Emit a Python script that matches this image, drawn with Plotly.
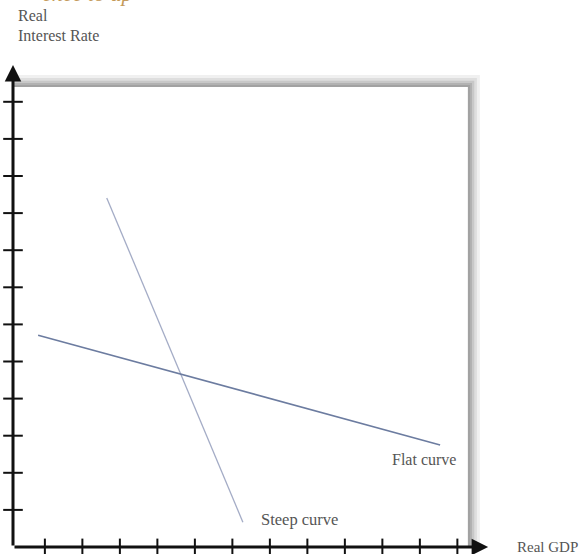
import plotly.graph_objects as go

# ---- data (chart units: 1 unit = one tick step) ----
steep_x = [2.5, 6.13]
steep_y = [9.41, 0.67]
flat_x = [0.67, 11.39]
flat_y = [5.71, 2.75]

x_ticks = [0.85, 1.85, 2.85, 3.85, 4.85, 5.85, 6.85, 7.85, 8.85, 9.85, 10.85, 11.85]
y_ticks = [1, 2, 3, 4, 5, 6, 7, 8, 9, 10, 11, 12]

x_label = "Real GDP"
y_label_1 = "Real"
y_label_2 = "Interest Rate"
flat_label = "Flat curve"
steep_label = "Steep curve"
header_text = "ence to up"

XR = [-0.3467, 15.2267]
YR = [-0.1887, 14.744]
BOX_X = 12.13
BOX_Y = 12.40
X_TIP = 12.67
Y_TIP = 12.99

fig = go.Figure()

# box with soft gray shadow on top and right
shadow = [
    (0.32, 0.32, "#f0f0f0"),
    (0.24, 0.24, "#dedede"),
    (0.17, 0.17, "#c8c8c8"),
    (0.11, 0.11, "#b2b2b2"),
    (0.06, 0.05, "#a2a2a2"),
]
for dx, dy, col in shadow:
    fig.add_shape(type="rect", x0=0, y0=0, x1=BOX_X + dx, y1=BOX_Y + dy,
                  fillcolor=col, line_width=0, layer="below")
fig.add_shape(type="rect", x0=0, y0=0, x1=BOX_X, y1=BOX_Y,
              fillcolor="white", line_width=0, layer="below")

# curves
fig.add_trace(go.Scatter(x=steep_x, y=steep_y, mode="lines",
                         line=dict(color="#a4acc6", width=1.3), hoverinfo="skip"))
fig.add_trace(go.Scatter(x=flat_x, y=flat_y, mode="lines",
                         line=dict(color="#6c7ca0", width=1.6), hoverinfo="skip"))

# ticks crossing the axes
fig.add_trace(go.Scatter(x=x_ticks, y=[0] * len(x_ticks), mode="markers",
                         marker=dict(symbol="line-ns", size=12,
                                     line=dict(color="#111", width=2)),
                         hoverinfo="skip"))
fig.add_trace(go.Scatter(x=[0] * len(y_ticks), y=y_ticks, mode="markers",
                         marker=dict(symbol="line-ew", size=14,
                                     line=dict(color="#111", width=2)),
                         hoverinfo="skip"))

# axes with arrows
for tx, ty in [(X_TIP, 0), (0, Y_TIP)]:
    fig.add_annotation(x=tx, y=ty, ax=0, ay=0, xref="x", yref="y",
                       axref="x", ayref="y", text="", showarrow=True,
                       arrowhead=2, arrowsize=1.1, arrowwidth=3,
                       arrowcolor="#111")

serif = "Liberation Serif"
txt = dict(family=serif, size=16, color="#555555")

fig.add_annotation(x=13.38, y=0, xref="x", yref="y", text=x_label,
                   showarrow=False, xanchor="left", yanchor="middle",
                   font=dict(family=serif, size=15, color="#555555"))
fig.add_annotation(x=10.05, y=2.35, xref="x", yref="y", text=flat_label,
                   showarrow=False, xanchor="left", yanchor="middle", font=txt)
fig.add_annotation(x=6.55, y=0.73, xref="x", yref="y", text=steep_label,
                   showarrow=False, xanchor="left", yanchor="middle",
                   font=dict(family=serif, size=16.5, color="#555555"))
fig.add_annotation(x=0.07, y=14.33, xref="x", yref="y", text=y_label_1,
                   showarrow=False, xanchor="left", yanchor="middle", font=txt)
fig.add_annotation(x=0.07, y=13.8, xref="x", yref="y", text=y_label_2,
                   showarrow=False, xanchor="left", yanchor="middle", font=txt)
fig.add_annotation(x=0.72, y=1.0, xref="x", yref="paper",
                   text="<i>" + header_text + "</i>",
                   showarrow=False, xanchor="left", yanchor="bottom",
                   yshift=-8,
                   font=dict(family=serif, size=22, color="#c49a5a"))

fig.update_layout(
    width=584, height=554,
    margin=dict(l=0, r=0, t=0, b=0),
    paper_bgcolor="white", plot_bgcolor="white",
    showlegend=False,
    xaxis=dict(range=XR, visible=False, fixedrange=True),
    yaxis=dict(range=YR, visible=False, fixedrange=True),
)

fig.write_html(
    "out.html",
    config={"displayModeBar": False},
    post_script="document.body.style.margin='0';document.body.style.overflow='hidden';",
)
